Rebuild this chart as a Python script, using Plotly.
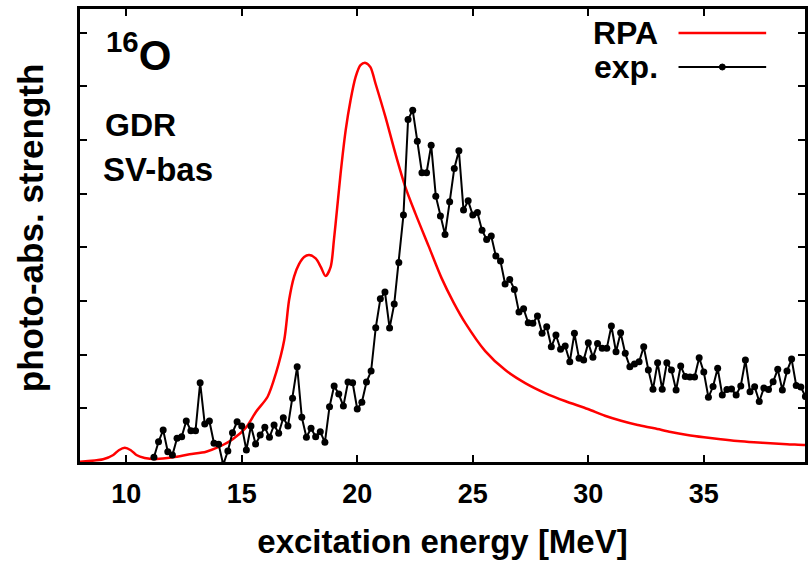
import plotly.graph_objects as go

# ---- data ----
rpa_energy = [8.0, 9.0, 9.44, 9.68, 9.94, 10.2, 10.44, 10.8, 11.31, 12.02, 12.74, 13.46,
              14.03, 14.61, 15.19, 15.62, 16.12, 16.48, 16.84, 17.05, 17.27, 17.48, 17.7,
              17.92, 18.2, 18.42, 18.63, 18.85, 18.99, 19.13, 19.28, 19.5, 19.71, 19.93,
              20.14, 20.36, 20.57, 20.79, 21.22, 21.65, 22.08, 22.51, 23.09, 23.65, 24.16,
              24.68, 25.54, 26.41, 27.27, 28.13, 28.99, 29.98, 30.72, 31.42, 32.14,
              32.86, 33.57, 34.29, 35.01, 35.73, 36.45, 37.17, 37.88, 38.6, 39.32, 39.5]
rpa_strength = [0.006, 0.05, 0.13, 0.22, 0.266, 0.22, 0.13, 0.075, 0.056, 0.088, 0.143, 0.192,
                0.285, 0.423, 0.646, 0.937, 1.216, 1.652, 2.272, 3.017, 3.46, 3.687, 3.82,
                3.855, 3.793, 3.637, 3.464, 3.637, 4.134, 4.73, 5.376, 6.182, 6.741, 7.175,
                7.393, 7.436, 7.356, 7.052, 6.43, 5.749, 5.127, 4.637, 4.022, 3.426, 2.98,
                2.588, 2.067, 1.713, 1.471, 1.285, 1.136, 0.987, 0.862, 0.769, 0.689,
                0.628, 0.559, 0.503, 0.46, 0.423, 0.391, 0.367, 0.348, 0.33, 0.317, 0.31]

exp_energy = [11.2, 11.4, 11.6, 11.8, 12.0, 12.2, 12.4, 12.6, 12.8, 13.0,
              13.2, 13.4, 13.6, 13.8, 14.0, 14.2, 14.4, 14.6, 14.8, 15.0,
              15.2, 15.4, 15.6, 15.8, 16.0, 16.2, 16.4, 16.6, 16.8, 17.0,
              17.2, 17.4, 17.6, 17.8, 18.0, 18.2, 18.4, 18.6, 18.8, 19.0,
              19.2, 19.4, 19.6, 19.8, 20.0, 20.2, 20.4, 20.6, 20.8, 21.0,
              21.2, 21.4, 21.6, 21.8, 22.0, 22.2, 22.4, 22.6, 22.8, 23.0,
              23.2, 23.4, 23.6, 23.8, 24.0, 24.2, 24.4, 24.6, 24.8, 25.0,
              25.2, 25.4, 25.6, 25.8, 26.0, 26.2, 26.4, 26.6, 26.8, 27.0,
              27.2, 27.4, 27.6, 27.8, 28.0, 28.2, 28.4, 28.6, 28.8, 29.0,
              29.2, 29.4, 29.6, 29.8, 30.0, 30.2, 30.4, 30.6, 30.8, 31.0,
              31.2, 31.4, 31.6, 31.8, 32.0, 32.2, 32.4, 32.6, 32.8, 33.0,
              33.2, 33.4, 33.6, 33.8, 34.0, 34.2, 34.4, 34.6, 34.8, 35.0,
              35.2, 35.4, 35.6, 35.8, 36.0, 36.2, 36.4, 36.6, 36.8, 37.0,
              37.2, 37.4, 37.6, 37.8, 38.0, 38.2, 38.4, 38.6, 38.8, 39.0,
              39.2, 39.4]
exp_strength = [0.088, 0.378, 0.596, 0.192, 0.13, 0.441, 0.471, 0.764, 0.583, 0.583,
                1.477, 0.708, 0.764, 0.348, 0.33, -0.05, 0.205, 0.546, 0.75, 0.67,
                0.223, 0.67, 0.335, 0.503, 0.646, 0.46, 0.689, 0.534, 0.825, 0.67,
                1.186, 1.775, 0.832, 0.46, 0.628, 0.471, 0.564, 0.367, 1.03, 1.415,
                1.266, 1.043, 1.49, 1.477, 0.987, 1.112, 1.49, 1.695, 2.501, 3.041,
                3.166, 2.495, 2.942, 3.719, 4.6, 6.382, 6.555, 5.978, 5.391, 5.391,
                5.903, 4.953, 4.581, 4.24, 4.847, 5.469, 5.797, 4.693, 4.866, 4.6,
                4.65, 4.32, 4.147, 4.209, 3.836, 3.743, 3.315, 3.402, 3.216, 2.793,
                2.855, 2.594, 2.583, 2.719, 2.397, 2.52, 2.147, 2.365, 2.099, 2.16,
                1.868, 2.397, 1.931, 1.899, 2.222, 1.95, 2.21, 2.117, 2.117, 2.533,
                2.054, 2.408, 2.024, 1.775, 1.825, 1.868, 2.147, 1.713, 1.354, 1.849,
                1.354, 1.849, 1.713, 1.341, 1.788, 1.592, 1.583, 1.583, 1.942, 1.676,
                1.205, 1.406, 1.745, 1.248, 1.35, 1.359, 1.248, 1.415, 1.899, 1.309,
                1.402, 1.127, 1.378, 1.35, 1.495, 1.726, 1.341, 1.695, 1.918, 1.425,
                1.397, 1.22]

x_tick_values = [10, 15, 20, 25, 30, 35]
y_tick_values = [1, 2, 3, 4, 5, 6, 7, 8]
x_range = [8.0, 39.38]
y_range = [0.0, 8.44]

FONT = "Liberation Sans, Arial, Helvetica, sans-serif"

fig = go.Figure()
fig.add_trace(go.Scatter(x=rpa_energy, y=rpa_strength, mode="lines", name="RPA",
                         line=dict(color="#ff0000", width=2.5, shape="spline", smoothing=0.8),
                         showlegend=False))
fig.add_trace(go.Scatter(x=exp_energy, y=exp_strength, mode="lines+markers", name="exp.",
                         line=dict(color="black", width=2),
                         marker=dict(color="black", size=7),
                         showlegend=False))

axis_common = dict(showgrid=False, zeroline=False, showline=True, linecolor="black",
                   linewidth=3, ticks="inside", ticklen=7, tickwidth=2, tickcolor="black",
                   mirror="ticks")
fig.update_xaxes(range=x_range, tickvals=x_tick_values, **axis_common,
                 ticklabelstandoff=6,
                 tickfont=dict(family=FONT, size=27, color="black", weight="bold"),
                 title=dict(text="excitation energy [MeV]", standoff=22,
                            font=dict(family=FONT, size=33, color="black", weight="bold")))
fig.update_yaxes(range=y_range, tickvals=y_tick_values, showticklabels=False, **axis_common)

def px_x(p):
    return (p - 80) / 728.0

def px_y(p):
    return (462 - p) / 453.0

annots = [
    dict(text="<sup>16</sup>O", x=px_x(104), y=px_y(52), xanchor="left", yanchor="middle", size=42, angle=0),
    dict(text="GDR", x=px_x(103), y=px_y(125), xanchor="left", yanchor="middle", size=32, angle=0),
    dict(text="SV-bas", x=px_x(101), y=px_y(169), xanchor="left", yanchor="middle", size=33, angle=0),
    dict(text="RPA", x=px_x(662), y=px_y(33), xanchor="right", yanchor="middle", size=32, angle=0),
    dict(text="exp.", x=px_x(662), y=px_y(67), xanchor="right", yanchor="middle", size=32, angle=0),
    dict(text="photo-abs. strength", x=px_x(30), y=px_y(228), xanchor="center", yanchor="middle",
         size=35, angle=-90),
]
for a in annots:
    fig.add_annotation(text=a["text"], x=a["x"], y=a["y"], xref="paper", yref="paper",
                       xanchor=a["xanchor"], yanchor=a["yanchor"], showarrow=False,
                       textangle=a["angle"],
                       font=dict(family=FONT, size=a["size"], color="black", weight="bold"))

# legend samples
fig.add_shape(type="line", xref="paper", yref="paper", x0=px_x(681), x1=px_x(769),
              y0=px_y(33), y1=px_y(33), line=dict(color="#ff0000", width=2.5))
fig.add_shape(type="line", xref="paper", yref="paper", x0=px_x(681), x1=px_x(769),
              y0=px_y(67), y1=px_y(67), line=dict(color="black", width=2))
fig.add_shape(type="circle", xref="paper", yref="paper", x0=px_x(722), x1=px_x(728),
              y0=px_y(70), y1=px_y(64), fillcolor="black", line=dict(color="black", width=1))

fig.update_layout(width=808, height=565, margin=dict(l=80, r=0, t=9, b=103),
                  plot_bgcolor="white", paper_bgcolor="white",
                  font=dict(family=FONT, color="black"))

fig.write_html("out.html", config={"displayModeBar": False},
               post_script="document.body.style.margin='0';document.body.style.overflow='hidden';")
